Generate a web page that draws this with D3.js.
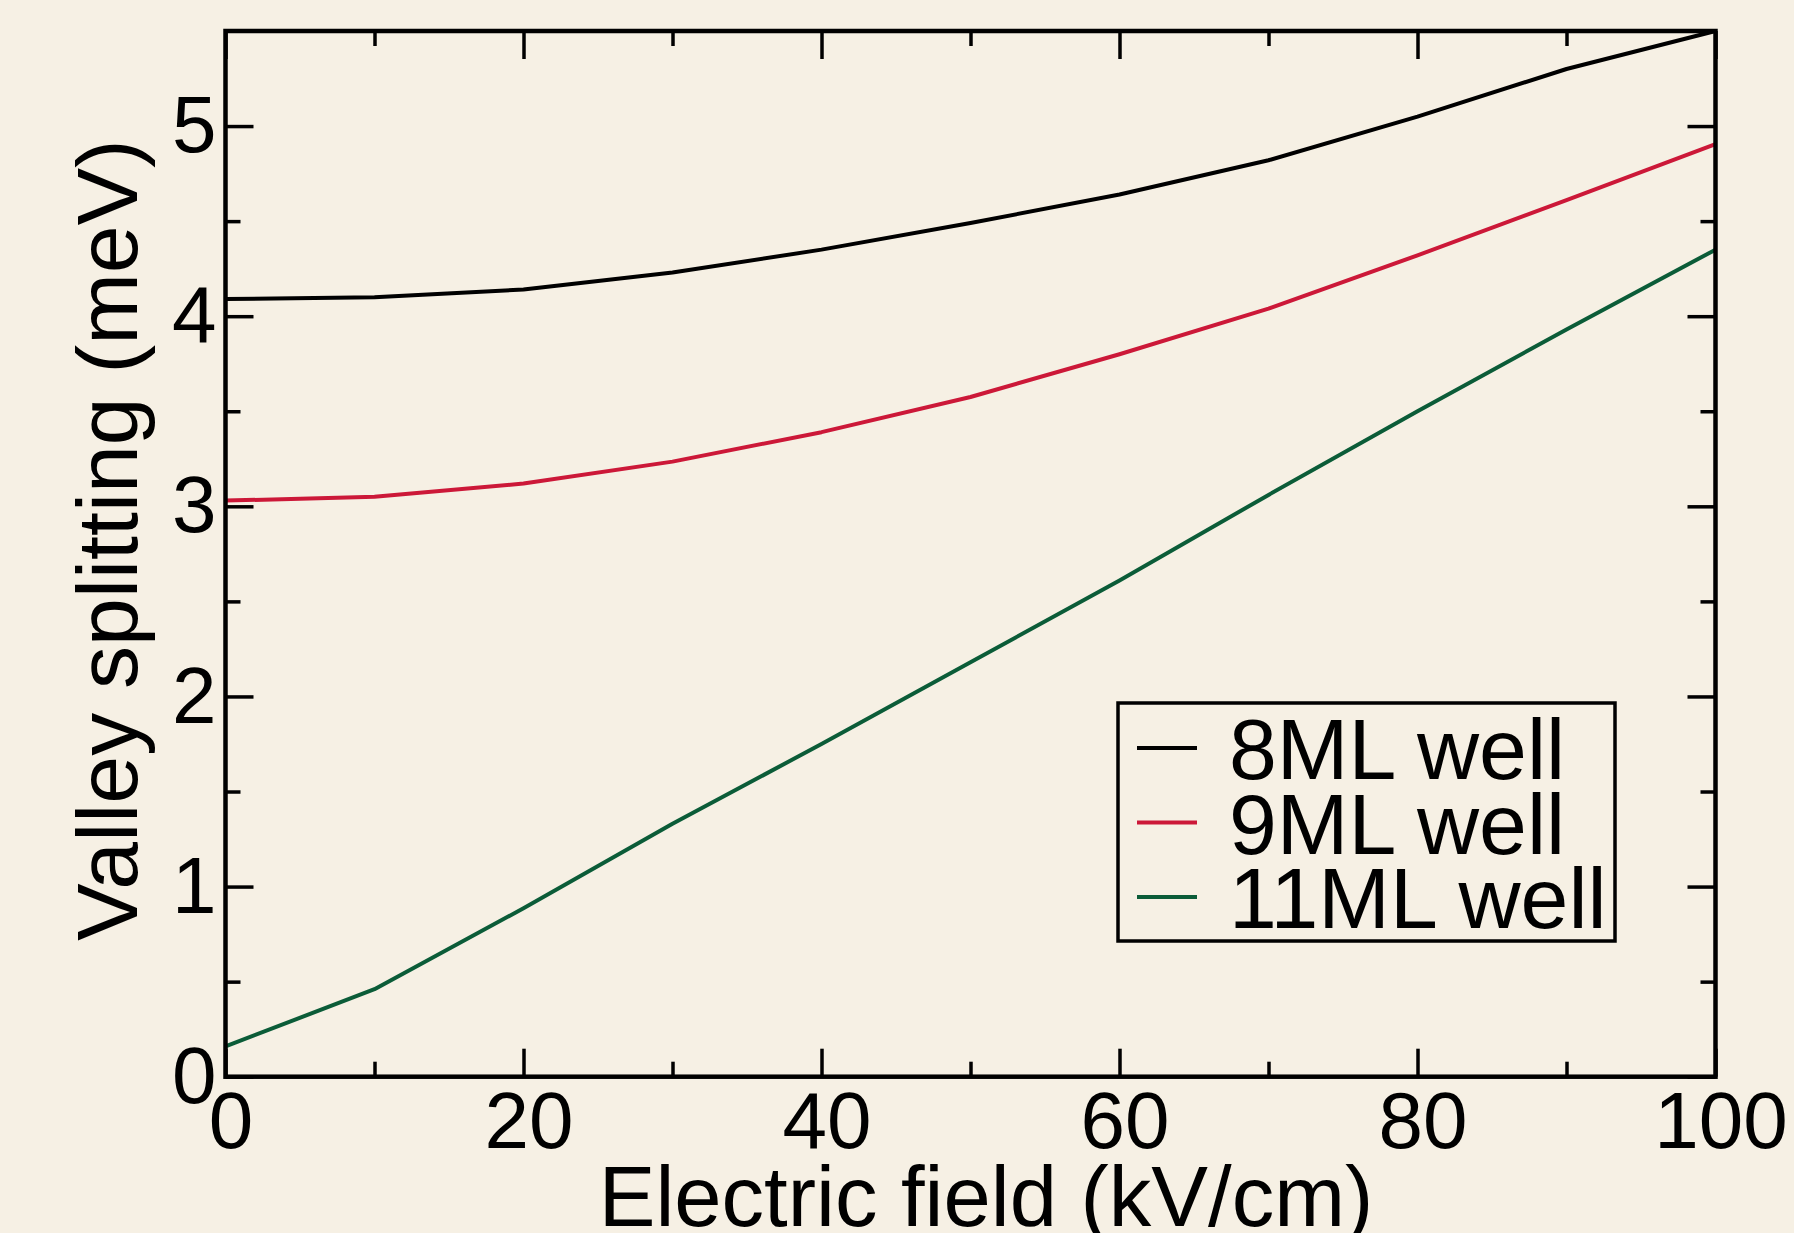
<!DOCTYPE html>
<html>
<head>
<meta charset="utf-8">
<script src="https://cdn.jsdelivr.net/npm/d3@7"></script>
<style>
  html, body { margin: 0; padding: 0; background: #f6f0e4; }
  svg { display: block; font-family: "Liberation Sans", Arial, Helvetica, sans-serif; }
</style>
</head>
<body>
<div id="chart"></div>
<script>
// electric field (kV/cm)
var fields = [0, 10, 20, 30, 40, 50, 60, 70, 80, 90, 100];

// valley splitting (meV) per well width
var well8 = [4.09, 4.10, 4.14, 4.23, 4.35, 4.49, 4.64, 4.82, 5.05, 5.30, 5.50];
var well9 = [3.03, 3.05, 3.12, 3.235, 3.39, 3.575, 3.80, 4.04, 4.32, 4.61, 4.905];
var well11 = [0.16, 0.46, 0.886, 1.33, 1.75, 2.18, 2.61, 3.06, 3.50, 3.93, 4.35];

var seriesNames = ["8ML well", "9ML well", "11ML well"];
var seriesColors = ["#000000", "#cc1838", "#0b5c38"];

var xMajor = [0, 20, 40, 60, 80, 100];
var xMinor = [10, 30, 50, 70, 90];
var yMajor = [0, 1, 2, 3, 4, 5];
var yMinor = [0.5, 1.5, 2.5, 3.5, 4.5];

// svg container
var width = 1794;
var height = 1233;

var margins = {
    top: 31,
    right: 78.5,
    bottom: 156.3,
    left: 225.5
};

var chartWidth = width - margins.left - margins.right;
var chartHeight = height - margins.top - margins.bottom;

var svg = d3.select("#chart").append("svg")
    .attr("width", width)
    .attr("height", height);

svg.append("rect")
    .attr("width", width)
    .attr("height", height)
    .attr("fill", "#f6f0e4");

var chartGroup = svg.append("g")
    .attr("transform", `translate(${margins.left}, ${margins.top})`);

var xScale = d3.scaleLinear().domain([0, 100]).range([0, chartWidth]);
var yScale = d3.scaleLinear().domain([0, 5.5]).range([chartHeight, 0]);

var tickFont = 80;

function styleAxis(g) {
    g.select(".domain").remove();
    g.selectAll(".tick line").attr("stroke", "#000").attr("stroke-width", 3.5);
    g.selectAll(".tick text")
        .attr("fill", "#000")
        .attr("font-size", tickFont)
        .attr("font-family", "Liberation Sans, Arial, sans-serif");
}

// bottom axis (major + minor), ticks pointing in
chartGroup.append("g")
    .attr("transform", `translate(0, ${chartHeight})`)
    .call(d3.axisBottom(xScale).tickValues(xMajor).tickSizeInner(-28).tickSizeOuter(0).tickPadding(14).tickFormat(d3.format("d")))
    .call(styleAxis)
    .selectAll(".tick text").attr("dx", 5);

chartGroup.append("g")
    .attr("transform", `translate(0, ${chartHeight})`)
    .call(d3.axisBottom(xScale).tickValues(xMinor).tickSizeInner(-15).tickSizeOuter(0).tickFormat(""))
    .call(styleAxis);

// top mirror
chartGroup.append("g")
    .call(d3.axisTop(xScale).tickValues(xMajor).tickSizeInner(-28).tickSizeOuter(0).tickFormat(""))
    .call(styleAxis);
chartGroup.append("g")
    .call(d3.axisTop(xScale).tickValues(xMinor).tickSizeInner(-15).tickSizeOuter(0).tickFormat(""))
    .call(styleAxis);

// left axis
chartGroup.append("g")
    .call(d3.axisLeft(yScale).tickValues(yMajor).tickSizeInner(-28).tickSizeOuter(0).tickPadding(9).tickFormat(d3.format("d")))
    .call(styleAxis);
chartGroup.append("g")
    .call(d3.axisLeft(yScale).tickValues(yMinor).tickSizeInner(-15).tickSizeOuter(0).tickFormat(""))
    .call(styleAxis);

// right mirror
chartGroup.append("g")
    .attr("transform", `translate(${chartWidth}, 0)`)
    .call(d3.axisRight(yScale).tickValues(yMajor).tickSizeInner(-28).tickSizeOuter(0).tickFormat(""))
    .call(styleAxis);
chartGroup.append("g")
    .attr("transform", `translate(${chartWidth}, 0)`)
    .call(d3.axisRight(yScale).tickValues(yMinor).tickSizeInner(-15).tickSizeOuter(0).tickFormat(""))
    .call(styleAxis);

// data lines
var allSeries = [well8, well9, well11];
var line = d3.line()
    .x((d, i) => xScale(fields[i]))
    .y(d => yScale(d));

chartGroup.selectAll(".series")
    .data(allSeries)
    .enter()
    .append("path")
    .attr("class", "series")
    .attr("d", d => line(d))
    .attr("fill", "none")
    .attr("stroke", (d, i) => seriesColors[i])
    .attr("stroke-width", 4)
    .attr("stroke-linejoin", "round");

// frame
chartGroup.append("rect")
    .attr("width", chartWidth)
    .attr("height", chartHeight)
    .attr("fill", "none")
    .attr("stroke", "#000")
    .attr("stroke-width", 4.5);

// axis titles
svg.append("text")
    .attr("x", 986)
    .attr("y", 1226)
    .attr("text-anchor", "middle")
    .attr("font-size", 85)
    .attr("fill", "#000")
    .text("Electric field (kV/cm)");

svg.append("text")
    .attr("transform", "translate(137, 540) rotate(-90)")
    .attr("text-anchor", "middle")
    .attr("font-size", 86)
    .attr("fill", "#000")
    .text("Valley splitting (meV)");

// legend
var legend = svg.append("g");
legend.append("rect")
    .attr("x", 1118)
    .attr("y", 703)
    .attr("width", 497)
    .attr("height", 238)
    .attr("fill", "none")
    .attr("stroke", "#000")
    .attr("stroke-width", 3.5);

var legendRows = legend.selectAll(".legendRow")
    .data(seriesNames)
    .enter()
    .append("g")
    .attr("class", "legendRow")
    .attr("transform", (d, i) => `translate(0, ${i * 74.5})`);

legendRows.append("line")
    .attr("x1", 1137)
    .attr("x2", 1197)
    .attr("y1", 748)
    .attr("y2", 748)
    .attr("stroke", (d, i) => seriesColors[i])
    .attr("stroke-width", 4);

legendRows.append("text")
    .attr("x", 1229)
    .attr("y", 779)
    .attr("font-size", 86)
    .attr("fill", "#000")
    .text(d => d);
</script>
</body>
</html>
